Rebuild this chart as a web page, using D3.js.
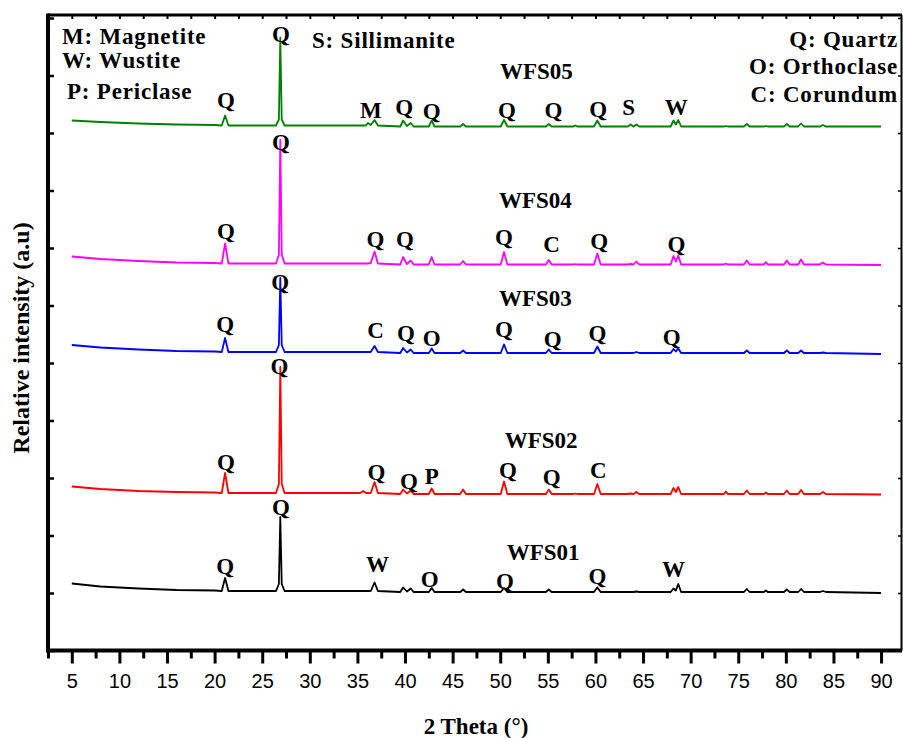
<!DOCTYPE html>
<html>
<head>
<meta charset="utf-8">
<script src="https://cdn.jsdelivr.net/npm/d3@7"></script>
<style>
  body { margin: 0; background: #fff; }
  .lbl { font-family: "Liberation Serif", "Times New Roman", serif; font-weight: bold; fill: #000; }
  .tick text { font-family: "Liberation Sans", Arial, sans-serif; }
</style>
</head>
<body>
<div id="graph"></div>
<script>
// 2 theta grid (degrees) shared by all patterns
var twoTheta = [5, 8, 12, 16, 20,
  20.75, 21.1, 21.45,
  26.45, 26.75, 26.9, 27.05, 27.35,
  32,
  35.3, 35.6, 35.9, 36.1, 36.4, 36.8, 37.15,
  39.5, 39.8, 40.2, 40.6, 40.9,
  42.5, 42.8, 43.1,
  45.8, 46.1, 46.4,
  50.05, 50.4, 50.75,
  54.8, 55.1, 55.4,
  57.7, 57.9, 58.1,
  59.85, 60.2, 60.55,
  63.4, 63.7, 64.0, 64.3, 64.6,
  67.9, 68.2, 68.45, 68.7, 69.0,
  73.5, 73.7, 73.9,
  75.6, 75.9, 76.2,
  77.7, 77.9, 78.1,
  79.8, 80.1, 80.4,
  81.3, 81.6, 81.9,
  83.6, 83.9, 84.2,
  90];

// relative intensity (a.u., patterns already stacked)
var wfs05 = [530, 528.5, 527, 526, 525.5,
  525, 535, 525,
  525, 531, 613, 531, 525,
  525,
  525, 525, 525, 527.5, 525.5, 530.5, 525,
  524, 530, 524.5, 527.5, 524,
  524, 530, 524,
  524, 526.5, 524,
  524, 530.5, 524,
  524, 526.5, 524,
  524, 525, 524,
  524, 530, 524,
  524, 526, 524, 526, 524,
  524, 530, 526, 530.5, 524,
  524, 524.5, 524,
  524, 526.5, 524,
  524, 524.5, 524,
  524, 526.5, 524,
  524, 527, 524,
  524, 525.5, 524,
  524];

var wfs04 = [394, 391.5, 389.5, 388, 387.5,
  387, 407, 387,
  387, 396, 510.5, 396, 387,
  387,
  387, 387, 387, 387, 387.5, 399, 387,
  386, 393.5, 386.5, 390, 386,
  386, 393.5, 386,
  386, 389.5, 386,
  386, 398.5, 386,
  386, 390.5, 386,
  386, 386.5, 386,
  386, 397, 386,
  386, 386.5, 386, 389, 386,
  386, 394.5, 389, 395, 386,
  386, 387, 386,
  386, 390, 386,
  386, 388.5, 386,
  386, 390, 386,
  386, 391, 386,
  386, 388, 386,
  385.5];

var wfs03 = [305.5, 303, 301, 299.5, 299,
  298.5, 312.5, 298.5,
  298.5, 305.5, 372.5, 305.5, 298.5,
  298.5,
  298.5, 298.5, 298.5, 298.5, 298.5, 304.5, 298.5,
  297.5, 302.5, 298, 301, 297.5,
  297.5, 302, 297.5,
  297.5, 300, 297.5,
  297.5, 306, 297.5,
  297.5, 301, 297.5,
  297.5, 297.5, 297.5,
  297.5, 304, 297.5,
  297.5, 297.5, 297.5, 298.5, 297.5,
  297.5, 301.5, 299, 302, 297.5,
  297.5, 297.5, 297.5,
  297.5, 300, 297.5,
  297.5, 297.5, 297.5,
  297.5, 300, 297.5,
  297.5, 300, 297.5,
  297.5, 298, 297.5,
  296.5];

var wfs02 = [164, 161.5, 159.5, 158.5, 158,
  157.5, 177.5, 157.5,
  157.5, 166.5, 283.5, 166.5, 157.5,
  157.5,
  157.5, 159.5, 157.5, 157.5, 157.5, 168.5, 157.5,
  156.5, 161, 157, 160, 156.5,
  156.5, 162, 156.5,
  156.5, 161, 156.5,
  156.5, 169, 156.5,
  156.5, 161, 156.5,
  156.5, 157, 156.5,
  156.5, 166.5, 156.5,
  156.5, 157, 156.5, 158.5, 156.5,
  156.5, 162.5, 158.5, 163.5, 156.5,
  156.5, 159, 156.5,
  156.5, 160, 156.5,
  156.5, 158, 156.5,
  156.5, 160, 156.5,
  156.5, 160.5, 156.5,
  156.5, 158.5, 156.5,
  156];

var wfs01 = [67, 64, 62, 60.5, 60,
  59.5, 72.5, 59.5,
  59.5, 66.5, 133.5, 66.5, 59.5,
  59.5,
  59.5, 59.5, 59.5, 59.5, 59.5, 68, 59.5,
  58.5, 63, 59, 62, 58.5,
  58.5, 62.5, 58.5,
  58.5, 61, 58.5,
  58.5, 62.5, 58.5,
  58.5, 61, 58.5,
  58.5, 58.5, 58.5,
  58.5, 63, 58.5,
  58.5, 58.5, 58.5, 59, 58.5,
  58.5, 62, 60, 66.5, 58.5,
  58.5, 58.5, 58.5,
  58.5, 61.5, 58.5,
  58.5, 60, 58.5,
  58.5, 61, 58.5,
  58.5, 61.5, 58.5,
  58.5, 59.5, 58.5,
  57.5];

var seriesNames = ["WFS01", "WFS02", "WFS03", "WFS04", "WFS05"];
var seriesColors = ["#000000", "#ff0000", "#0000ff", "#ff00ff", "#008000"];
// where each sample name sits (2 theta, a.u.)
var nameTheta = [54.5, 54.3, 53.7, 53.7, 53.8];
var nameLevel = [90.5, 202.5, 344.5, 442.5, 572];

// phase letters [2 theta, a.u., letter]
var peaks01 = [[21.1, 77, "Q"], [26.96, 135.5, "Q"], [37.1, 79, "W"], [42.6, 64, "O"], [50.5, 62, "Q"], [60.2, 67, "Q"], [68.2, 73.5, "W"]];
var peaks02 = [[21.2, 180.5, "Q"], [26.8, 277, "Q"], [37.0, 170.5, "Q"], [40.4, 162, "Q"], [42.8, 167, "P"], [50.8, 173, "Q"], [55.4, 165.5, "Q"], [60.3, 173, "C"]];
var peaks03 = [[21.1, 319, "Q"], [26.9, 360.5, "Q"], [36.9, 313, "C"], [40.1, 310, "Q"], [42.8, 305, "O"], [50.4, 314, "Q"], [55.5, 304, "Q"], [60.2, 310, "Q"], [68.0, 306, "Q"]];
var peaks04 = [[21.2, 412, "Q"], [26.96, 500.5, "Q"], [36.9, 404, "Q"], [40.0, 404, "Q"], [50.4, 405.5, "Q"], [55.4, 399, "C"], [60.4, 402, "Q"], [68.5, 399, "Q"]];
var peaks05 = [[21.2, 542.5, "Q"], [26.96, 608.5, "Q"], [36.4, 533, "M"], [39.9, 535.5, "Q"], [42.8, 532, "Q"], [50.7, 532.5, "Q"], [55.6, 532.5, "Q"], [60.3, 533.5, "Q"], [63.5, 535.5, "S"], [68.5, 535.5, "W"]];

var keyLeft = ["M: Magnetite", "W: Wustite", "P: Periclase"];
var keyMiddle = ["S: Sillimanite"];
var keyRight = ["Q: Quartz", "O: Orthoclase", "C: Corundum"];

var xMajor = d3.range(5, 91, 5);
var xMinor = d3.range(2.5, 92, 5);
var yTicks = d3.range(0, 636, 57.5);

(function(){
  "use strict";
  var width = 903, height = 738;
  var left = 48, right = 902, top = 15, bottom = 650.5;

  var x = d3.scaleLinear().domain([2.5, 92.2]).range([left, right]);
  var y = d3.scaleLinear().domain([0, 635.5]).range([bottom, top]);

  var svg = d3.select("#graph").append("svg")
    .attr("width", width)
    .attr("height", height);

  var allValues = [wfs01, wfs02, wfs03, wfs04, wfs05];
  var allPeaks = [peaks01, peaks02, peaks03, peaks04, peaks05];

  var line = d3.line()
    .x(function(d){ return x(d[0]); })
    .y(function(d){ return y(d[1]); });

  // patterns
  allValues.forEach(function(vals, k){
    svg.append("path")
      .datum(twoTheta.map(function(t, i){ return [t, vals[i]]; }))
      .attr("d", line)
      .attr("fill", "none")
      .attr("stroke", seriesColors[k])
      .attr("stroke-width", 1.8)
      .attr("stroke-linejoin", "round");
  });

  // phase letters above peaks
  allPeaks.forEach(function(list){
    svg.selectAll(null).data(list).enter().append("text")
      .attr("class", "lbl")
      .attr("x", function(d){ return x(d[0]); })
      .attr("y", function(d){ return y(d[1]); })
      .attr("text-anchor", "middle")
      .style("font-size", "23px")
      .text(function(d){ return d[2]; });
  });

  // sample names
  svg.selectAll(null).data(seriesNames).enter().append("text")
    .attr("class", "lbl")
    .attr("x", function(d, i){ return x(nameTheta[i]); })
    .attr("y", function(d, i){ return y(nameLevel[i]); })
    .attr("text-anchor", "middle")
    .style("font-size", "23px")
    .text(function(d){ return d; });

  // phase key
  var keyRows = [44, 68, 99];
  svg.selectAll(null).data(keyLeft).enter().append("text")
    .attr("class", "lbl")
    .attr("x", function(d, i){ return i === 2 ? 67 : 62; })
    .attr("y", function(d, i){ return keyRows[i]; })
    .style("font-size", "23px")
    .style("letter-spacing", "0.8px")
    .text(function(d){ return d; });
  svg.append("text").attr("class", "lbl")
    .attr("x", 312).attr("y", 48)
    .style("font-size", "23px")
    .style("letter-spacing", "0.8px")
    .text(keyMiddle[0]);
  var rightRows = [47, 74, 102];
  svg.selectAll(null).data(keyRight).enter().append("text")
    .attr("class", "lbl")
    .attr("x", 898)
    .attr("y", function(d, i){ return rightRows[i]; })
    .attr("text-anchor", "end")
    .style("font-size", "23px")
    .style("letter-spacing", "0.8px")
    .text(function(d){ return d; });

  // axes: bottom with labels, mirrored ticks on the other sides
  var gx = svg.append("g").attr("transform", "translate(0," + bottom + ")")
    .call(d3.axisBottom(x).tickValues(xMajor).tickSize(13).tickPadding(10).tickFormat(d3.format("d")));
  gx.select(".domain").remove();
  gx.selectAll(".tick line").attr("stroke-width", 3);
  gx.selectAll(".tick text").style("font-size", "20px").attr("fill", "#000");

  var gxm = svg.append("g").attr("transform", "translate(0," + bottom + ")")
    .call(d3.axisBottom(x).tickValues(xMinor).tickSize(8).tickFormat(""));
  gxm.select(".domain").remove();
  gxm.selectAll(".tick line").attr("stroke-width", 3);

  var gt = svg.append("g").attr("transform", "translate(0," + top + ")")
    .call(d3.axisTop(x).tickValues(xMajor.concat(xMinor)).tickSize(-4).tickFormat(""));
  gt.select(".domain").remove();
  gt.selectAll(".tick line").attr("stroke-width", 2);

  var gy = svg.append("g").attr("transform", "translate(" + left + ",0)")
    .call(d3.axisLeft(y).tickValues(yTicks).tickSize(-6).tickFormat(""));
  gy.select(".domain").remove();
  gy.selectAll(".tick line").attr("stroke-width", 2.5);

  var gr = svg.append("g").attr("transform", "translate(" + right + ",0)")
    .call(d3.axisRight(y).tickValues(yTicks).tickSize(-4).tickFormat(""));
  gr.select(".domain").remove();
  gr.selectAll(".tick line").attr("stroke-width", 1.5);

  // frame
  svg.append("line").attr("x1", left).attr("x2", left).attr("y1", top - 1.5).attr("y2", bottom + 2)
    .attr("stroke", "#000").attr("stroke-width", 4);
  svg.append("line").attr("x1", left - 2).attr("x2", right).attr("y1", bottom).attr("y2", bottom)
    .attr("stroke", "#000").attr("stroke-width", 4);
  svg.append("line").attr("x1", left).attr("x2", right).attr("y1", top).attr("y2", top)
    .attr("stroke", "#000").attr("stroke-width", 3);
  svg.append("line").attr("x1", right - 0.5).attr("x2", right - 0.5).attr("y1", top).attr("y2", bottom)
    .attr("stroke", "#000").attr("stroke-width", 2);

  // axis titles
  svg.append("text").attr("class", "lbl")
    .attr("x", 476).attr("y", 734)
    .attr("text-anchor", "middle")
    .style("font-size", "23px")
    .text("2 Theta (\u00b0)");

  svg.append("text").attr("class", "lbl")
    .attr("transform", "translate(29,338) rotate(-90)")
    .attr("text-anchor", "middle")
    .style("font-size", "24px")
    .text("Relative intensity (a.u)");
})();
</script>
</body>
</html>
